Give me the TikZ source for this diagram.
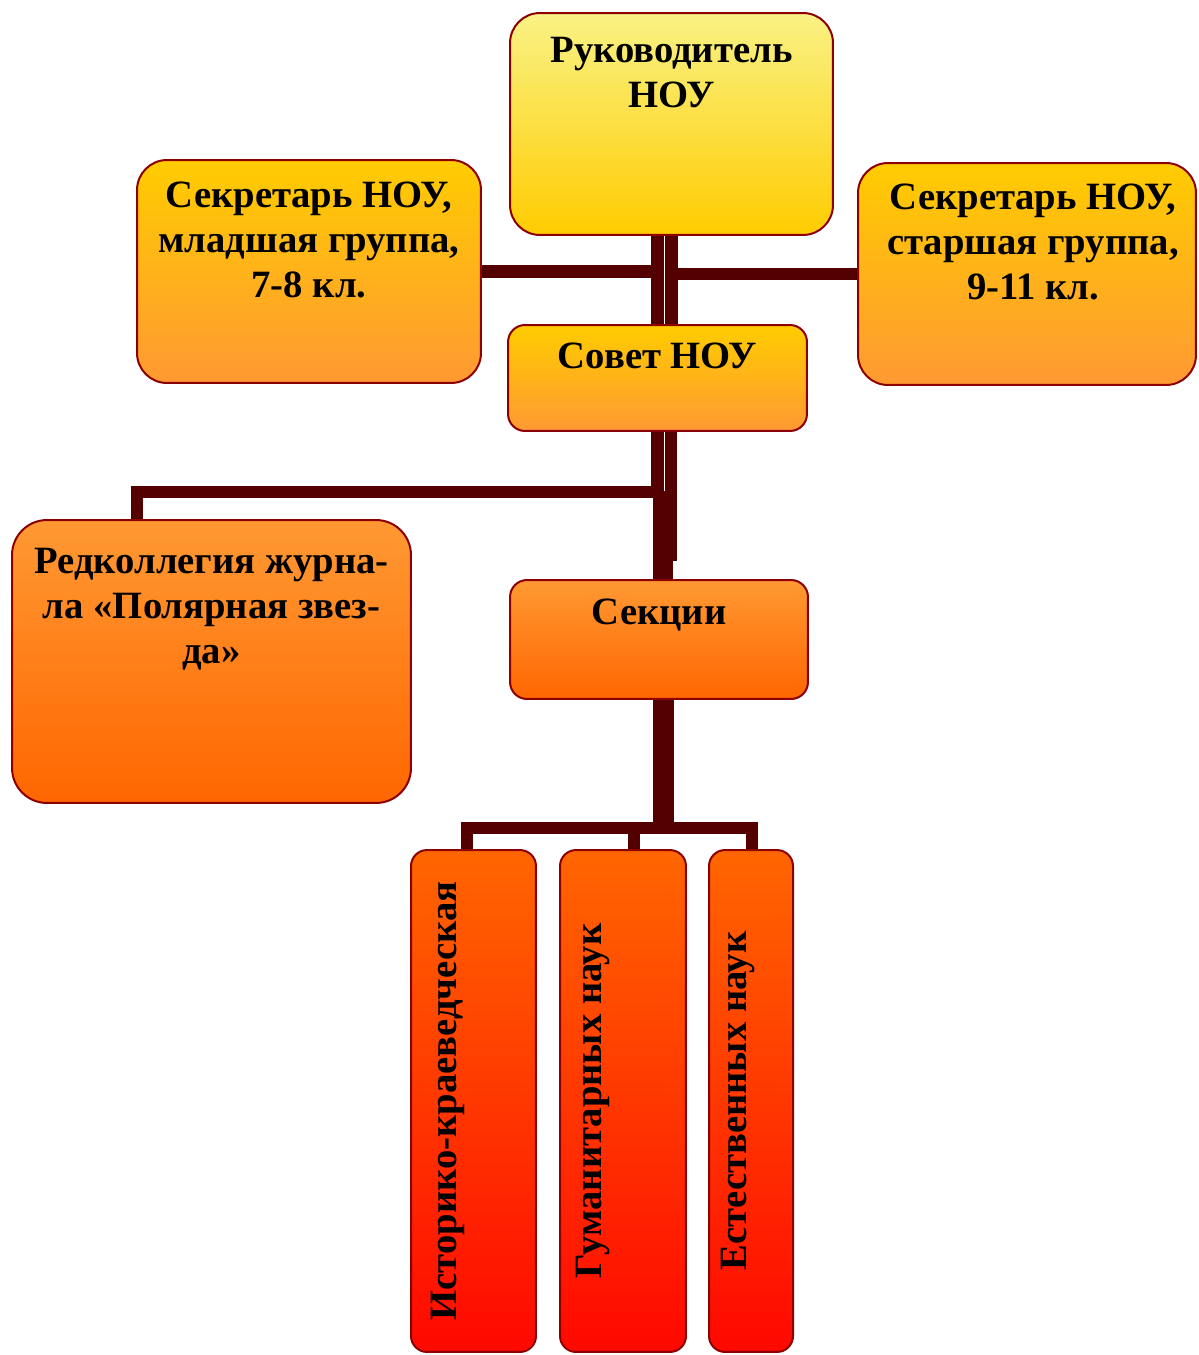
\documentclass[tikz,border=0pt]{standalone}
\usepackage{fontspec}
\setmainfont{Liberation Serif}
\usetikzlibrary{positioning,calc,backgrounds}
\definecolor{linkc}{HTML}{550000}
\definecolor{edgec}{HTML}{8C0000}
\definecolor{lemon}{HTML}{F9F285}
\definecolor{gold}{HTML}{FFCC00}
\definecolor{amber}{HTML}{FF9933}
\definecolor{tangerine}{HTML}{FF6600}
\definecolor{scarlet}{HTML}{FF0800}
\tikzset{
  box/.style={draw=edgec,line width=0.04cm,inner sep=0pt},
  tierA/.style={box,top color=lemon,bottom color=gold},
  tierB/.style={box,top color=gold,bottom color=amber},
  tierC/.style={box,top color=amber,bottom color=tangerine},
  tierD/.style={box,top color=tangerine,bottom color=scarlet,rounded corners=0.32cm,
    minimum height=10.04cm},
  htxt/.style={anchor=north,align=center,inner sep=0pt,
    font=\fontsize{22pt}{25.6pt}\selectfont\bfseries},
  vtxt/.style={rotate=90,inner sep=0pt,
    font=\fontsize{22pt}{25.6pt}\selectfont\bfseries},
  link/.style={draw=linkc,line width=0.25cm},
  widelink/.style={draw=linkc,line width=0.41cm}
}
\begin{document}
\begin{tikzpicture}[x=0.02cm,y=-0.02cm]
\useasboundingbox (0,0) rectangle (1198,1355);
% boxes
\node[tierA,rounded corners=0.6cm,minimum width=6.46cm,minimum height=4.44cm] (ruk) at (671.5,124) {};
\node[tierB,rounded corners=0.6cm,minimum width=6.88cm,minimum height=4.46cm] (sekl) at (309,271.5) {};
\node[tierB,rounded corners=0.6cm,minimum width=6.76cm,minimum height=4.44cm] (sekr) at (1027,274) {};
\node[tierB,rounded corners=0.34cm,minimum width=5.98cm,minimum height=2.12cm] (sovet) at (657.5,378) {};
\node[tierC,rounded corners=0.7cm,minimum width=7.98cm,minimum height=5.66cm] (redk) at (211.5,661.5) {};
\node[tierC,rounded corners=0.34cm,minimum width=5.96cm,minimum height=2.38cm] (sekcii) at (659,639.5) {};
\node[tierD,minimum width=2.5cm] (ist) at (473.5,1101) {};
\node[tierD,minimum width=2.52cm] (gum) at (623,1101) {};
\node[tierD,minimum width=1.68cm] (est) at (751,1101) {};
% texts
\node[htxt,below=0.5cm of ruk.north] (rukT) {Руководитель\\НОУ};
\node[htxt,below=0.46cm of sekl.north] (seklT) {Секретарь НОУ,\\младшая группа,\\7-8 кл.};
\node[htxt,below=0.44cm of sekr.north,xshift=0.12cm] (sekrT) {Секретарь НОУ,\\старшая группа,\\9-11 кл.};
\node[htxt,below=0.38cm of sovet.north] (sovetT) {Совет НОУ};
\node[htxt,below=0.58cm of redk.north] (redkT) {Редколлегия журна-\\ла «Полярная звез-\\да»};
\node[htxt,below=0.4cm of sekcii.north] (sekciiT) {Секции};
\node[vtxt,right=0.34cm of ist.west,anchor=north,yshift=-0.08cm] (istT) {Историко-краеведческая};
\node[vtxt,right=0.34cm of gum.west,anchor=north] (gumT) {Гуманитарных наук};
\node[vtxt,right=0.26cm of est.west,anchor=north] (estT) {Естественных наук};
% connectors
\begin{scope}[on background layer]
  \draw[link] (ruk.south) -- (ruk.south |- sovet.north);
  \draw[link] (sovet.north) -- (sovet.north |- ruk.south);
  \draw[link] (sekl.east) -- (sekl.east -| sovet.north);
  \draw[link] (sekr.west) -- (sekr.west -| ruk.south);
  \coordinate (hubR) at (sovet.south |- 0,492);
  \draw[link] (sovet.south) -- (hubR) -| ($(redk.north)+(-74.5,0)$);
  \draw[link] ($(sovet.south)+(13.5,0)$) -- ++(0,129);
  \draw[widelink] ($(sekcii.north)+(4,0)$) -- ++(0,-88);
  \coordinate (hubS) at ($(sekcii.south)+(4.5,128)$);
  \draw[widelink] ($(sekcii.south)+(4.5,0)$) -- (hubS);
  \draw[link] ($(ist.north)+(-6.5,0)$) |- (hubS) -| ($(est.north)+(1,0)$);
  \draw[link] ($(gum.north)+(11,0)$) -- ++(0,-23);
\end{scope}
\end{tikzpicture}
\end{document}
